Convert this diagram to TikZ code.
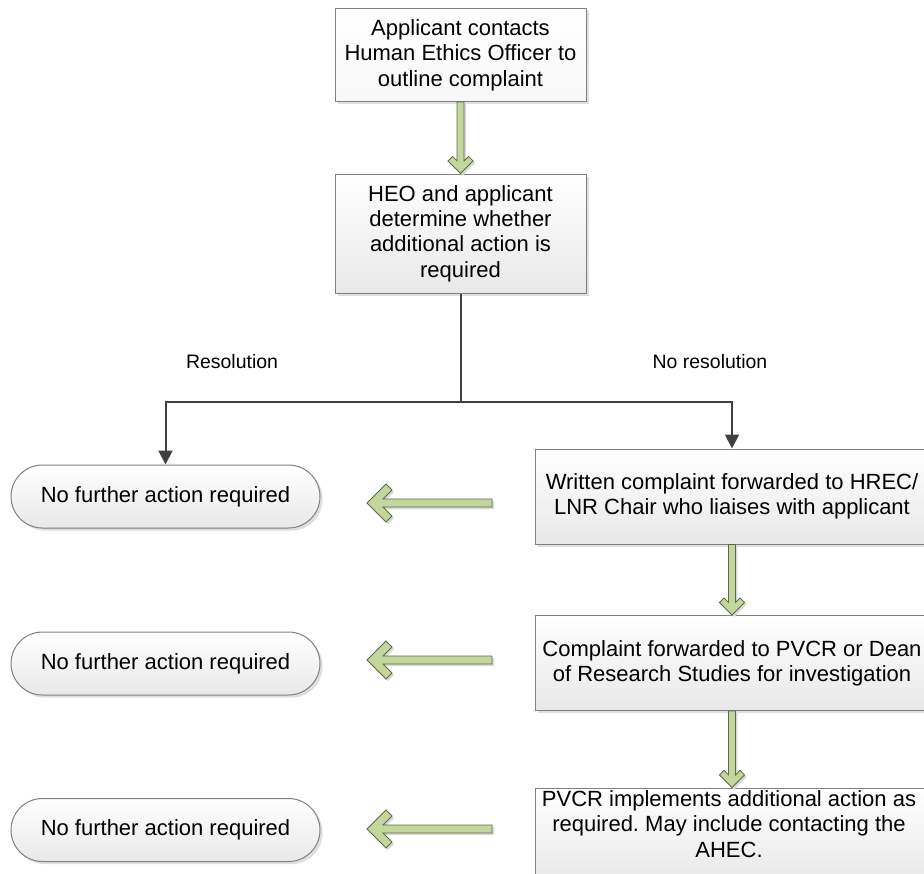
\documentclass[tikz,border=0pt]{standalone}
\usepackage{fontspec}
\setmainfont{Liberation Sans}
\frenchspacing
\usetikzlibrary{calc,shadows,arrows.meta}
\definecolor{gfill}{RGB}{195,214,155}
\definecolor{gdraw}{RGB}{95,105,70}
\definecolor{lnc}{RGB}{64,64,64}
\tikzset{
 box/.style={draw=black!50, line width=0.75pt, top color=white, bottom color=black!9,
   drop shadow={shadow xshift=2pt,shadow yshift=-2pt,fill=black!25},
   align=center, inner sep=2pt, font=\fontsize{16.5}{19}\selectfont},
 topbox/.style={box, minimum width=188.25pt},
 oval/.style={box, rounded corners=23.6pt, minimum width=231.75pt, minimum height=47.25pt},
 rbox/.style={box, minimum width=295.5pt, minimum height=71.25pt},
 txt/.style={align=center, inner sep=0pt, font=\fontsize{16.5}{19}\selectfont},
 lbl/.style={font=\fontsize{14.6}{17}\selectfont},
 conn/.style={draw=lnc, line width=1.5pt},
 tip/.style={-{Triangle[length=10.5pt,width=10.5pt]}},
 ga/.style={fill=gfill, draw=gdraw, line width=0.6pt, line join=miter},
 gs/.style={fill=black!15, transform canvas={xshift=1.5pt,yshift=-1.5pt}},
}
% #1 style, #2 head half-width, #3 arm cap, #4 shaft half-width, #5 tail, #6 tip
\newcommand\fatarrowpath[6]{%
 \path[#1] let \p1=(#5), \p2=(#6), \n1={atan2(\y1-\y2,\x1-\x2)}, \n2={veclen(\x1-\x2,\y1-\y2)} in
  [shift={(\p2)}, rotate=\n1]
  (0pt,0pt) -- (#2,#2) -- ({#2+#3},{#2-#3}) -- ({2*#3+#4},#4) -- ({\n2*1pt},#4)
  -- ({\n2*1pt},-#4) -- ({2*#3+#4},-#4) -- ({#2+#3},{#3-#2}) -- (#2,-#2) -- cycle;}
\newcommand\fatarrow[5]{\fatarrowpath{gs}{#1}{#2}{#3}{#4}{#5}\fatarrowpath{ga}{#1}{#2}{#3}{#4}{#5}}
\begin{document}
\begin{tikzpicture}[x=0.75pt,y=-0.75pt]
\clip (0,0) rectangle (924,874);
% top boxes
\node[topbox, minimum height=69.75pt, bottom color=black!3] (b1) at (460.5,55)
  {Applicant contacts\\Human Ethics Officer to\\outline complaint};
\node[topbox, minimum height=89.25pt] (b2) at (460.5,233.5)
  {HEO and applicant\\determine whether\\additional action is\\required};
% right boxes
\node[rbox] (rA) at (732,496.5) {Written complaint forwarded to HREC/\\LNR Chair who liaises with applicant};
\node[rbox] (rB) at (732,663) {Complaint forwarded to PVCR or Dean\\of Research Studies for investigation};
\node[rbox] (rC) at (732,835.5) {};
\node[txt] (rCt) at (729,824) {PVCR implements additional action as\\required. May include contacting the\\AHEC.};
% ovals
\node[oval] (o1) at (165.5,496.5) {No further action required};
\node[oval] (o2) at (165.5,663.5) {No further action required};
\node[oval] (o3) at (165.5,830) {No further action required};
% labels
\node[lbl] (l1) at (232,362) {Resolution};
\node[lbl] (l2) at (710,362) {No resolution};
% connectors
\coordinate (j) at (460.5,402);
\draw[conn] (b2.south) -- (j);
\draw[conn,tip] (j) -| (o1.north);
\draw[conn,tip] (j) -| (rA.north);
% green arrows
\fatarrow{9.4pt}{3.4pt}{2.6pt}{b1.south}{b2.north}
\fatarrow{9.4pt}{3.4pt}{2.6pt}{rA.south}{rB.north}
\fatarrow{9.4pt}{3.4pt}{2.6pt}{rB.south}{rC.north}
\coordinate (s1) at (492,503); \coordinate (t1) at (367,503);
\coordinate (s2) at (492,660); \coordinate (t2) at (367,660);
\coordinate (s3) at (492,829); \coordinate (t3) at (367,829);
\fatarrow{14.25pt}{4.5pt}{3pt}{s1}{t1}
\fatarrow{14.25pt}{4.5pt}{3pt}{s2}{t2}
\fatarrow{14.25pt}{4.5pt}{3pt}{s3}{t3}
\end{tikzpicture}
\end{document}
